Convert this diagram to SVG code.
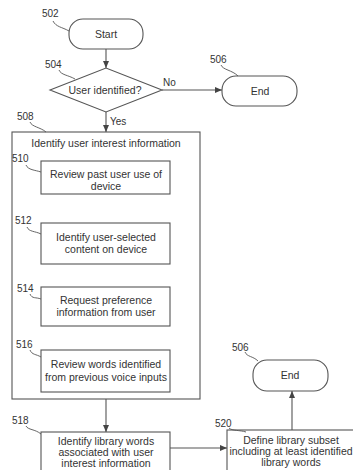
<svg xmlns="http://www.w3.org/2000/svg" width="353" height="470" viewBox="0 0 353 470">
<defs>
<marker id="ah" markerWidth="8" markerHeight="8" refX="7" refY="4" orient="auto" markerUnits="userSpaceOnUse">
<path d="M0,1 L7,4 L0,7 Z" fill="#444"/>
</marker>
<style>
.sh{fill:#fff;stroke:#555;stroke-width:1.1}
.t{font-family:"Liberation Sans",Arial,sans-serif;font-size:10.5px;fill:#333;text-anchor:middle}
.lb{font-family:"Liberation Sans",Arial,sans-serif;font-size:10px;fill:#333}
.ld{fill:none;stroke:#555;stroke-width:0.9}
.c{fill:none;stroke:#555;stroke-width:1.1;marker-end:url(#ah)}
</style>
</defs>
<rect width="353" height="470" fill="#fff"/>
<g id="connectors">
<path class="c" d="M106,49 L106,68"/>
<path class="c" d="M162,90 L222,90"/>
<path class="c" d="M106,112 L106,132"/>
<path class="c" d="M106,194 L106,223"/>
<path class="c" d="M106,264 L106,287"/>
<path class="c" d="M106,326 L106,350"/>
<path class="c" d="M106,399 L106,432"/>
<path class="c" d="M170,448 L227,448"/>
<path class="c" d="M292,430 L292,391"/>
<text class="lb" x="163" y="86">No</text>
<text class="lb" x="110" y="125">Yes</text>
</g>
<g id="n502">
<rect class="sh" x="69" y="19" width="74" height="30" rx="14"/>
<text class="t" x="106" y="38">Start</text>
<text class="lb" x="42" y="17">502</text>
<path class="ld" d="M53,21 C56,27 62,27 69,31"/>
</g>
<g id="n504">
<polygon class="sh" points="50,90 106,68 162,90 106,112"/>
<text class="t" x="105" y="94">User identified?</text>
<text class="lb" x="45" y="68">504</text>
<path class="ld" d="M59,70 C61,75 68,75 75,79"/>
</g>
<g id="n506a">
<rect class="sh" x="222" y="76" width="75" height="30" rx="14"/>
<text class="t" x="260" y="95">End</text>
<text class="lb" x="210" y="63">506</text>
<path class="ld" d="M221,65 C223,70 232,70 238,76"/>
</g>
<g id="n508">
<rect class="sh" x="12" y="132" width="188" height="267"/>
<text class="t" x="106" y="147">Identify user interest information</text>
<text class="lb" x="17" y="120">508</text>
<path class="ld" d="M30,122 C32,127 40,127 46,132"/>
</g>
<g id="n510">
<rect class="sh" x="41" y="161" width="129" height="33"/>
<text class="t" x="106" y="178">Review past user use of</text>
<text class="t" x="106" y="190">device</text>
<text class="lb" x="12" y="162">510</text>
<path class="ld" d="M26,165 C28,170 35,170 41,172"/>
</g>
<g id="n512">
<rect class="sh" x="41" y="223" width="129" height="41"/>
<text class="t" x="106" y="241">Identify user-selected</text>
<text class="t" x="106" y="253">content on device</text>
<text class="lb" x="15" y="224">512</text>
<path class="ld" d="M27,227 C29,232 35,231 41,234"/>
</g>
<g id="n514">
<rect class="sh" x="41" y="287" width="129" height="39"/>
<text class="t" x="106" y="304">Request preference</text>
<text class="t" x="106" y="316">information from user</text>
<text class="lb" x="17" y="292">514</text>
<path class="ld" d="M30,294 C32,299 36,297 41,299"/>
</g>
<g id="n516">
<rect class="sh" x="41" y="350" width="129" height="42"/>
<text class="t" x="106" y="368">Review words identified</text>
<text class="t" x="106" y="381">from previous voice inputs</text>
<text class="lb" x="16" y="348">516</text>
<path class="ld" d="M30,350 C32,355 36,354 41,357"/>
</g>
<g id="n518">
<rect class="sh" x="41" y="432" width="129" height="50"/>
<text class="t" x="106" y="445">Identify library words</text>
<text class="t" x="106" y="456">associated with user</text>
<text class="t" x="106" y="467">interest information</text>
<text class="lb" x="12" y="424">518</text>
<path class="ld" d="M26,426 C28,430 35,429 41,434"/>
</g>
<g id="n520">
<rect class="sh" x="227" y="430" width="135" height="50"/>
<text class="t" x="291" y="444">Define library subset</text>
<text class="t" x="291" y="455">including at least identified</text>
<text class="t" x="291" y="466">library words</text>
<text class="lb" x="215" y="427">520</text>
<path class="ld" d="M229,428 C232,431 240,430 246,432"/>
</g>
<g id="n506b">
<rect class="sh" x="253" y="360" width="75" height="31" rx="14"/>
<text class="t" x="290" y="379">End</text>
<text class="lb" x="232" y="351">506</text>
<path class="ld" d="M245,352 C247,357 253,356 258,361"/>
</g>
</svg>
